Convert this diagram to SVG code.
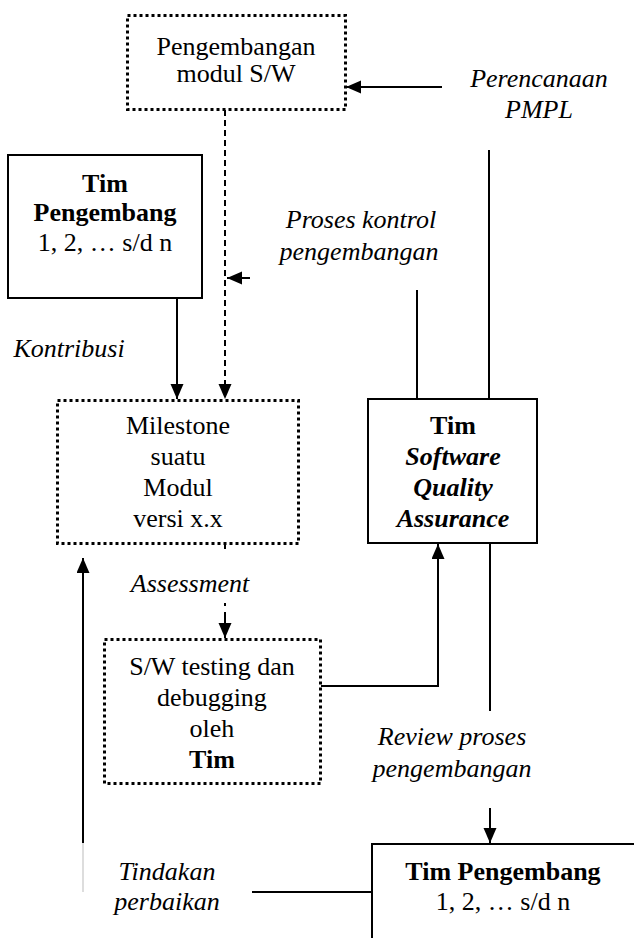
<svg xmlns="http://www.w3.org/2000/svg" width="634" height="938" viewBox="0 0 634 938">
  <style>
    text { font-family: "Liberation Serif", "Times New Roman", serif; font-size: 26px; fill: #000; text-anchor: middle; }
    .b { font-weight: bold; }
    .i { font-style: italic; }
    .solid { fill: #fff; stroke: #000; stroke-width: 2; }
    .dotted { fill: #fff; stroke: #000; stroke-width: 3; stroke-dasharray: 3 3; }
    .conn { fill: none; stroke: #000; stroke-width: 2; }
    .dash { stroke-dasharray: 6 4; }
  </style>
  <defs>
    <marker id="arrow" markerUnits="userSpaceOnUse" markerWidth="16" markerHeight="14" refX="15" refY="6.5" orient="auto">
      <path d="M0,0 L15,6.5 L0,13 z" fill="#000"/>
    </marker>
  </defs>
  <rect width="634" height="938" fill="#fff"/>

  <g id="connectors">
    <line class="conn" x1="442" y1="87" x2="346" y2="87" marker-end="url(#arrow)"/>
    <line class="conn dash" x1="225" y1="110" x2="225" y2="399" marker-end="url(#arrow)"/>
    <line class="conn" x1="250" y1="278" x2="227" y2="278" marker-end="url(#arrow)"/>
    <line class="conn" x1="177" y1="298" x2="177" y2="399" marker-end="url(#arrow)"/>
    <line class="conn" x1="225" y1="543" x2="225" y2="549"/>
    <line class="conn" x1="225" y1="603" x2="225" y2="606"/>
    <line class="conn" x1="225" y1="612" x2="225" y2="638" marker-end="url(#arrow)"/>
    <polyline class="conn" points="321,686 438,686 438,544" marker-end="url(#arrow)"/>
    <line class="conn" x1="83" y1="843" x2="83" y2="558" marker-end="url(#arrow)"/>
    <line x1="83" y1="843" x2="83" y2="892" stroke="#bbb" stroke-width="1"/>
    <line class="conn" x1="252" y1="892" x2="372" y2="892"/>
    <line class="conn" x1="417" y1="290" x2="417" y2="399"/>
    <line class="conn" x1="489" y1="150" x2="489" y2="399"/>
    <line class="conn" x1="490" y1="543" x2="490" y2="711"/>
    <line class="conn" x1="490" y1="808" x2="490" y2="843" marker-end="url(#arrow)"/>
  </g>

  <g id="pengembangan-modul">
    <rect class="dotted" x="127.5" y="15.5" width="218" height="94"/>
    <text x="236" y="55">Pengembangan</text>
    <text x="236" y="82">modul S/W</text>
  </g>

  <g id="label-perencanaan">
    <text class="i" x="539" y="87">Perencanaan</text>
    <text class="i" x="539" y="118">PMPL</text>
  </g>

  <g id="tim-pengembang">
    <rect class="solid" x="8" y="155" width="194" height="143"/>
    <text class="b" x="105" y="192">Tim</text>
    <text class="b" x="105" y="221">Pengembang</text>
    <text x="105" y="251">1, 2, … s/d n</text>
  </g>

  <g id="label-proses-kontrol">
    <text class="i" x="361" y="228">Proses kontrol</text>
    <text class="i" x="359" y="260">pengembangan</text>
  </g>

  <g id="label-kontribusi">
    <text class="i" x="69" y="357">Kontribusi</text>
  </g>

  <g id="milestone">
    <rect class="dotted" x="57.5" y="400.5" width="241" height="143"/>
    <text x="178" y="434">Milestone</text>
    <text x="178" y="465">suatu</text>
    <text x="178" y="496">Modul</text>
    <text x="178" y="527">versi x.x</text>
  </g>

  <g id="tim-sqa">
    <rect class="solid" x="368" y="399" width="169" height="144"/>
    <text class="b" x="453" y="434">Tim</text>
    <text class="b i" x="453" y="465">Software</text>
    <text class="b i" x="453" y="496">Quality</text>
    <text class="b i" x="453" y="527">Assurance</text>
  </g>

  <g id="label-assessment">
    <text class="i" x="190" y="592">Assessment</text>
  </g>

  <g id="testing">
    <rect class="dotted" x="104.5" y="639.5" width="216" height="144"/>
    <text x="212" y="675">S/W testing dan</text>
    <text x="212" y="706">debugging</text>
    <text x="212" y="737">oleh</text>
    <text class="b" x="212" y="768">Tim</text>
  </g>

  <g id="label-review">
    <text class="i" x="452" y="745">Review proses</text>
    <text class="i" x="452" y="777">pengembangan</text>
  </g>

  <g id="label-tindakan">
    <text class="i" x="167" y="880">Tindakan</text>
    <text class="i" x="167" y="910">perbaikan</text>
  </g>

  <g id="tim-pengembang-bawah">
    <rect class="solid" x="372" y="844" width="300" height="130"/>
    <text class="b" x="503" y="880">Tim Pengembang</text>
    <text x="503" y="910">1, 2, … s/d n</text>
  </g>
</svg>
